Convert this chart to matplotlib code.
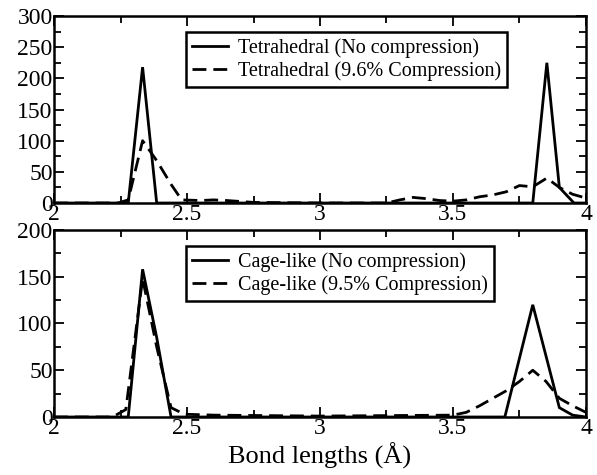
import matplotlib
matplotlib.use("Agg")
import matplotlib.pyplot as plt
from matplotlib.ticker import MultipleLocator

plt.rcParams["font.family"] = ["Liberation Serif", "DejaVu Serif"]

# Tetrahedral, no compression
tet_x = [2.0, 2.279, 2.333, 2.386, 3.80, 3.853, 3.90, 3.955, 4.0]
tet_y = [0, 0, 218, 0, 0, 225, 25, 0, 0]

# Tetrahedral, 9.6% compression
tetc_x = [2.0, 2.24, 2.279, 2.333, 2.386, 2.44, 2.48, 2.55, 2.60, 2.65, 2.75,
          3.0, 3.25, 3.30, 3.35, 3.40, 3.45, 3.50, 3.55, 3.60, 3.65, 3.70,
          3.75, 3.80, 3.853, 3.90, 3.95, 4.0]
tetc_y = [0, 0, 5, 100, 68, 30, 5, 4, 5, 4, 1,
          0, 0, 5, 9, 7, 4, 3, 5, 10, 13, 18,
          28, 26, 40, 25, 14, 8]

# Cage-like, no compression
cage_x = [2.0, 2.279, 2.333, 2.386, 2.44, 3.695, 3.80, 3.90, 3.95, 4.0]
cage_y = [0, 0, 158, 85, 0, 0, 120, 10, 2, 0]

# Cage-like, 9.5% compression
cagec_x = [2.0, 2.22, 2.27, 2.333, 2.386, 2.44, 2.49, 2.6, 3.0, 3.5, 3.55,
           3.60, 3.65, 3.70, 3.75, 3.80, 3.85, 3.90, 3.95, 4.0]
cagec_y = [0, 0, 8, 148, 75, 10, 3, 2, 1, 2, 5,
           12, 20, 28, 38, 50, 38, 20, 12, 5]

LW = 2.0
DASH = (0, (5, 2.5))


def style_axis(ax, ymax, ymajor, yminor):
    ax.set_xlim(2, 4)
    ax.set_ylim(0, ymax)
    ax.xaxis.set_major_locator(MultipleLocator(0.5))
    ax.xaxis.set_minor_locator(MultipleLocator(0.25))
    ax.yaxis.set_major_locator(MultipleLocator(ymajor))
    ax.yaxis.set_minor_locator(MultipleLocator(yminor))
    ax.tick_params(which="both", direction="in", top=True, right=True,
                   labelsize=17, width=1.3, pad=1)
    ax.tick_params(which="major", length=7)
    ax.tick_params(which="minor", length=5)
    ax.xaxis.set_major_formatter(plt.FuncFormatter(lambda v, _: f"{v:g}"))
    for sp in ax.spines.values():
        sp.set_linewidth(1.8)


fig = plt.figure(figsize=(5.97, 4.75), dpi=100)
ax1 = fig.add_axes([0.0905, 0.5726, 0.891, 0.3937])
ax2 = fig.add_axes([0.0905, 0.1221, 0.891, 0.3937])

ax1.plot(tet_x, tet_y, color="black", lw=LW, solid_joinstyle="miter",
         label="Tetrahedral (No compression)")
ax1.plot(tetc_x, tetc_y, color="black", lw=LW, ls=DASH,
         label="Tetrahedral (9.6% Compression)")
style_axis(ax1, 300, 50, 25)

ax2.plot(cage_x, cage_y, color="black", lw=LW, solid_joinstyle="miter",
         label="Cage-like (No compression)")
ax2.plot(cagec_x, cagec_y, color="black", lw=LW, ls=DASH,
         label="Cage-like (9.5% Compression)")
style_axis(ax2, 200, 50, 25)
ax2.set_xlabel("Bond lengths (Å)", fontsize=19, labelpad=2)

for ax in (ax1, ax2):
    leg = ax.legend(loc="upper left", bbox_to_anchor=(0.248, 0.912),
                    fontsize=14.5, frameon=True, fancybox=False,
                    borderpad=0.3, labelspacing=0.15, handlelength=1.8,
                    handletextpad=0.5, borderaxespad=0)
    leg.get_frame().set_edgecolor("black")
    leg.get_frame().set_linewidth(1.8)
    leg.get_frame().set_alpha(1)

fig.savefig("out.png", dpi=100)
